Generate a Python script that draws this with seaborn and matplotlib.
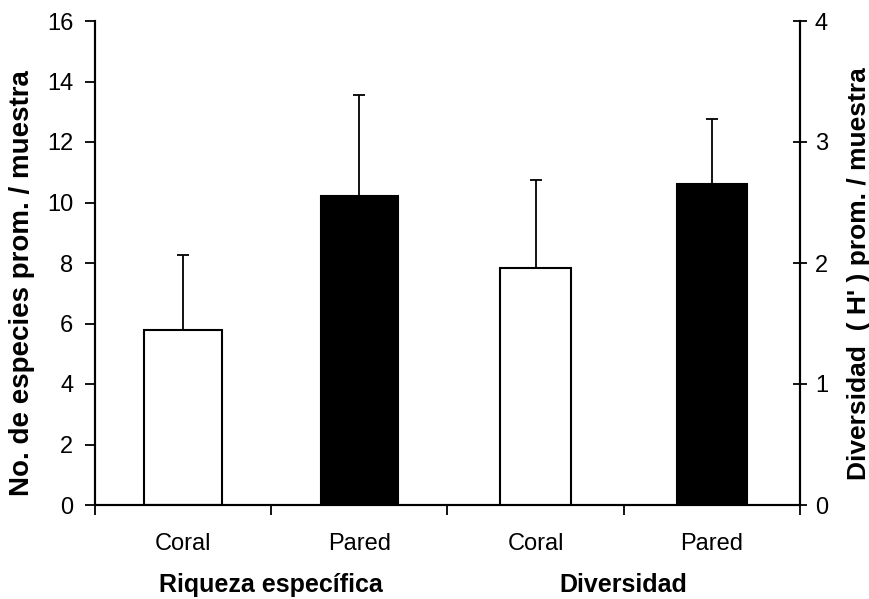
import matplotlib
matplotlib.use("Agg")
import matplotlib.pyplot as plt
import seaborn as sns
import pandas as pd
import numpy as np

# ---- data ----
riq_cats = ["Coral", "Pared"]
riq_means = [5.8, 10.22]
riq_err = [2.45, 3.33]

div_cats = ["Coral", "Pared"]
div_means = [1.96, 2.65]
div_err = [0.73, 0.54]

group_labels = ["Riqueza específica", "Diversidad"]
bar_colors = ["white", "black"]

left_ticks = [0, 2, 4, 6, 8, 10, 12, 14, 16]
right_ticks = [0, 1, 2, 3, 4]

left_label = "No. de especies prom. / muestra"
right_label = "Diversidad  ( H' ) prom. / muestra"

sns.set_theme(style="white")
plt.rcParams["font.family"] = ["Liberation Sans", "DejaVu Sans"]
plt.rcParams.update({"text.color": "black", "axes.labelcolor": "black",
                     "xtick.color": "black", "ytick.color": "black",
                     "axes.edgecolor": "black"})

order = ["R_" + c for c in riq_cats] + ["D_" + c for c in div_cats]
df_r = pd.DataFrame({"cat": ["R_" + c for c in riq_cats], "val": riq_means, "grp": riq_cats})
df_d = pd.DataFrame({"cat": ["D_" + c for c in div_cats], "val": div_means, "grp": div_cats})

W, H = 870, 599
fig = plt.figure(figsize=(W/100, H/100), dpi=100)
ax = fig.add_axes([95/W, 1-505/H, (800-95)/W, (505-21)/H])
ax2 = ax.twinx()

pal = dict(zip(riq_cats, bar_colors))
sns.barplot(data=df_r, x="cat", y="val", hue="grp", order=order, palette=pal,
            width=0.44, dodge=False, edgecolor="black", linewidth=1.5,
            legend=False, ax=ax, errorbar=None)
sns.barplot(data=df_d, x="cat", y="val", hue="grp", order=order, palette=pal,
            width=0.4, dodge=False, edgecolor="black", linewidth=1.5,
            legend=False, ax=ax2, errorbar=None)

# error bars (upper only)
xr = [order.index("R_" + c) for c in riq_cats]
xd = [order.index("D_" + c) for c in div_cats]
ax.errorbar(xr, riq_means, yerr=[np.zeros(len(riq_err)), riq_err], fmt="none",
            ecolor="black", elinewidth=1.3, capsize=4.5, capthick=1.3, zorder=1)
ax2.errorbar(xd, div_means, yerr=[np.zeros(len(div_err)), div_err], fmt="none",
             ecolor="black", elinewidth=1.3, capsize=4.5, capthick=1.3, zorder=1)
for a in (ax, ax2):
    for p in a.patches:
        p.set_zorder(2)

ax.set_ylim(0, 16)
ax2.set_ylim(0, 4)
ax.set_xlim(-0.5, 3.5)
ax.set_yticks(left_ticks)
ax2.set_yticks(right_ticks)

ax.set_xticks(range(4))
ax.set_xticklabels(riq_cats + div_cats, fontsize=17)
ax.set_xticks(np.arange(-0.5, 4, 1), minor=True)
ax.tick_params(axis="x", which="major", length=0, pad=20)
ax.tick_params(axis="x", which="minor", length=7.5, width=1.3, direction="out", color="black", bottom=True)
ax.tick_params(axis="y", length=7.5, width=1.3, direction="out", color="black", left=True, labelsize=17, pad=8)
ax2.tick_params(axis="y", length=9.5, width=1.3, direction="inout", color="black", right=True, labelsize=17, pad=6)

for a in (ax, ax2):
    for s in a.spines.values():
        s.set_color("black")
        s.set_linewidth(1.5)
    a.spines["top"].set_visible(False)
    a.set_xlabel("")
    a.set_ylabel("")

fig.text(22/W, 1-283/H, left_label, rotation=90, ha="center", va="center",
         fontsize=20, fontweight="bold", color="black")
fig.text(859/W, 1-274/H, right_label, rotation=90, ha="center", va="center",
         fontsize=19, fontweight="bold", color="black")

ax.text(0.5, -0.165, group_labels[0], transform=ax.get_xaxis_transform(), ha="center", va="center",
        fontsize=18, fontweight="bold", color="black")
ax.text(2.5, -0.165, group_labels[1], transform=ax.get_xaxis_transform(), ha="center", va="center",
        fontsize=18, fontweight="bold", color="black")

fig.savefig("out.png", dpi=100, facecolor="white")
